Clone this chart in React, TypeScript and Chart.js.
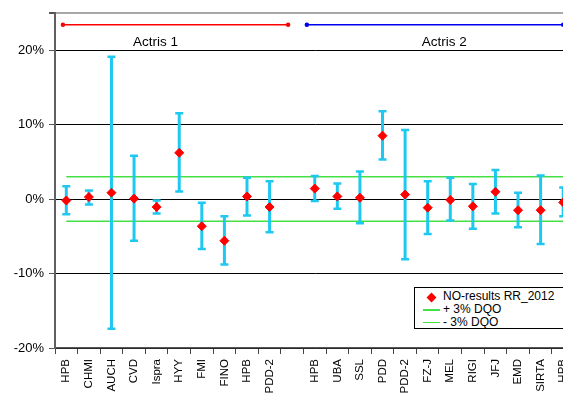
import React, { useEffect, useRef } from "react";
import { Chart, registerables } from "chart.js";

Chart.register(...registerables);

// ---- data ----
const categories = ["HPB", "CHMI", "AUCH", "CVD", "Ispra", "HYY", "FMI", "FINO", "HPB", "PDD-2", "", "HPB", "UBA", "SSL", "PDD", "PDD-2", "FZ-J", "MEL", "RIGI", "JFJ", "EMD", "SIRTA", "HPB"];
const results = [-0.2, 0.27, 0.85, 0.05, -1.07, 6.2, -3.65, -5.6, 0.35, -1.07, null, 1.4, 0.35, 0.17, 8.5, 0.6, -1.16, -0.13, -0.98, 0.97, -1.5, -1.5, -0.45];
const errHigh = [1.7, 1.15, 19.1, 5.8, -0.19, 11.5, -0.5, -2.3, 2.85, 2.4, null, 3.1, 2.1, 3.7, 11.8, 9.25, 2.4, 2.85, 2.0, 3.9, 0.84, 3.15, 1.55];
const errLow = [-2.05, -0.72, -17.4, -5.6, -1.96, 1.0, -6.7, -8.8, -2.2, -4.45, null, -0.27, -1.3, -3.25, 5.3, -8.1, -4.7, -2.9, -4.0, -1.96, -3.8, -6.05, -2.3];
const dqoPlus = 3;
const dqoMinus = -3;
const yTickValues = [-20, -10, 0, 10, 20];
const legendLabels = ["NO-results RR_2012", "+ 3% DQO", "- 3% DQO"];

// group annotation (Actris 1 / Actris 2)
const groupNames = ["Actris 1", "Actris 2"];
const groupFrom = [-0.15, 10.65];
const groupTo = [9.82, 22.0];
const groupLabelAt = [3.95, 16.73];
const groupColors = ["#ff0000", "#0000ee"];
const groupArrowLevel = 23.4;
const groupLabelLevel = 21.1;

const FONT = "'Liberation Sans', Arial, Helvetica, sans-serif";
const CYAN = "#1ec8f0";
const GREEN = "#44e044";

export default function App() {
  const ref = useRef<HTMLCanvasElement | null>(null);

  useEffect(() => {
    if (!ref.current) return;
    Chart.defaults.font.family = FONT;

    const errLine: any[] = [];
    const caps: any[] = [];
    const pts: any[] = [];
    categories.forEach((_, i) => {
      if (errHigh[i] !== null && errLow[i] !== null) {
        errLine.push({ x: i, y: errLow[i] }, { x: i, y: errHigh[i] }, { x: i + 0.5, y: null });
        caps.push({ x: i, y: errLow[i] }, { x: i, y: errHigh[i] });
      }
      if (results[i] !== null) pts.push({ x: i, y: results[i] });
    });

    const groupPlugin = {
      id: "groupLabels",
      afterDatasetsDraw(chart: any) {
        const { ctx, scales } = chart;
        ctx.save();
        ctx.font = "13.5px " + FONT;
        ctx.fillStyle = "#000";
        ctx.textAlign = "center";
        ctx.textBaseline = "middle";
        groupNames.forEach((n, i) => {
          ctx.fillText(n, scales.x.getPixelForValue(groupLabelAt[i]), scales.y.getPixelForValue(groupLabelLevel));
        });
        ctx.restore();
      },
    };

    const datasets: any[] = [
      {
        type: "scatter",
        label: legendLabels[0],
        data: pts,
        pointStyle: "rectRot",
        pointRadius: 4.5,
        backgroundColor: "#ff0000",
        borderColor: "#ff0000",
        borderWidth: 1,
        order: 0,
      },
      {
        type: "scatter",
        label: "caps",
        data: caps,
        pointStyle: "line",
        pointRadius: 4,
        borderColor: CYAN,
        borderWidth: 2.5,
        order: 1,
      },
      {
        type: "line",
        label: "err",
        data: errLine,
        borderColor: CYAN,
        borderWidth: 3,
        pointRadius: 0,
        spanGaps: false,
        order: 2,
      },
      {
        type: "line",
        label: legendLabels[1],
        data: [{ x: 0, y: dqoPlus }, { x: 22.5, y: dqoPlus }],
        borderColor: GREEN,
        borderWidth: 1.5,
        pointRadius: 0,
        order: 3,
      },
      {
        type: "line",
        label: legendLabels[2],
        data: [{ x: 0, y: dqoMinus }, { x: 22.5, y: dqoMinus }],
        borderColor: GREEN,
        borderWidth: 1.5,
        pointRadius: 0,
        order: 3,
      },
    ];
    groupNames.forEach((n, i) => {
      datasets.push({
        type: "line",
        label: n,
        data: [{ x: groupFrom[i], y: groupArrowLevel }, { x: groupTo[i], y: groupArrowLevel }],
        borderColor: groupColors[i],
        backgroundColor: groupColors[i],
        borderWidth: 1.5,
        pointRadius: 1.5,
        order: 4,
        clip: false,
      });
    });

    const chart = new Chart(ref.current, {
      type: "scatter",
      data: { datasets },
      options: {
        animation: false,
        responsive: false,
        layout: { padding: { top: 10.5, right: 0, bottom: 0, left: 0 } },
        plugins: { legend: { display: false }, tooltip: { enabled: false } },
        scales: {
          x: {
            type: "linear",
            min: -0.5,
            max: 22.5,
            afterBuildTicks: (s: any) => {
              s.ticks = categories.map((_, i) => ({ value: i }));
            },
            afterFit: (s: any) => {
              s.height = 49;
              s.paddingRight = 0;
              s.paddingLeft = 0;
            },
            grid: { drawOnChartArea: false, drawTicks: true, tickLength: 6, offset: true, tickColor: "#444", lineWidth: 1 },
            border: { color: "#555", width: 1.5 },
            ticks: {
              autoSkip: false,
              minRotation: 90,
              maxRotation: 90,
              padding: 5,
              color: "#000",
              font: { size: 11.5, family: FONT },
              callback: (v: any) => categories[Math.round(v)] ?? "",
            },
          },
          y: {
            type: "linear",
            min: -20,
            max: 25,
            afterBuildTicks: (s: any) => {
              s.ticks = [...yTickValues, 25].map((v) => ({ value: v }));
            },
            afterFit: (s: any) => {
              s.width = 55;
            },
            grid: {
              color: (c: any) => (c.tick && c.tick.value === 25 ? "#a8a8a8" : "#000"),
              lineWidth: (c: any) => (c.tick && c.tick.value === 25 ? 2 : 1),
              tickLength: 6,
              tickColor: "#555",
            },
            border: { color: "#606060", width: 2 },
            ticks: {
              padding: 5,
              color: "#000",
              font: { size: 13, family: FONT },
              callback: (v: any) => (v === 25 ? "" : v + "%"),
            },
          },
        },
      },
      plugins: [groupPlugin],
    } as any);

    return () => chart.destroy();
  }, []);

  const rowTop = [290, 303, 315.5];
  return (
    <div style={{ position: "fixed", left: 0, top: 0, width: 563, height: 397, overflow: "hidden", background: "#fff" }}>
      <canvas ref={ref} width={581} height={397} style={{ width: 581, height: 397, display: "block" }} />
      <div
        style={{
          position: "absolute",
          left: 414,
          top: 287,
          width: 170,
          height: 42,
          border: "1px solid #000",
          background: "#fff",
          fontFamily: FONT,
          fontSize: 12,
          color: "#000",
          boxSizing: "border-box",
        }}
      >
        {legendLabels.map((t, i) => (
          <div key={i} style={{ position: "absolute", left: 0, top: rowTop[i] - 288, height: 13, width: 170, lineHeight: "13px", whiteSpace: "nowrap" }}>
            {i === 0 ? (
              <span style={{ position: "absolute", left: 13, top: 3.5, width: 7, height: 7, background: "#ff0000", transform: "rotate(45deg)" }} />
            ) : (
              <span style={{ position: "absolute", left: 8, top: 6, width: 17, height: 1.5, background: GREEN }} />
            )}
            <span style={{ position: "absolute", left: 28 }}>{t}</span>
          </div>
        ))}
      </div>
    </div>
  );
}
